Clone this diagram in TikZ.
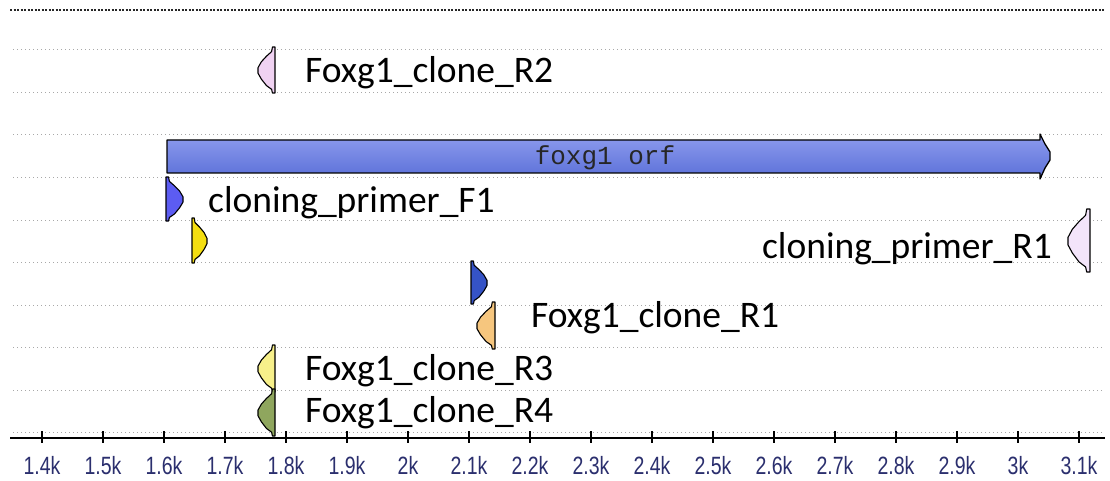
\documentclass[tikz,border=0pt]{standalone}
\usepackage{fontspec}
\newfontfamily\featfont{Carlito}
\newfontfamily\tickfont{Liberation Sans}
\newfontfamily\orffont{Liberation Mono}
\definecolor{axisblue}{HTML}{2B2F6E}
\definecolor{rowgray}{HTML}{A8A8A8}
\definecolor{orftop}{HTML}{8E9CEE}
\definecolor{orfbot}{HTML}{5A6FD8}
\definecolor{pinkR}{HTML}{F0D2F2}
\definecolor{lilacR}{HTML}{F3E4FA}
\definecolor{violetF}{HTML}{5C5CF2}
\definecolor{yellowF}{HTML}{F4DE10}
\definecolor{navyF}{HTML}{3553C6}
\definecolor{peachR}{HTML}{F6C67E}
\definecolor{paleyellowR}{HTML}{F7F08A}
\definecolor{oliveR}{HTML}{8FA65E}

% forward primer: left edge, top, width, height, fill
\newcommand\fwdprimer[5]{%
  \begin{scope}[shift={(#1,#2)}, xscale=#3, yscale=#4]
    \filldraw[primer, fill=#5] (0,0) -- (0.15,0) -- (0.2,0.1) -- (0.5,0.2)
      -- (0.8,0.32) -- (1,0.45) -- (1,0.57) -- (0.8,0.7) -- (0.5,0.84)
      -- (0.2,0.92) -- (0.15,1) -- (0,1) -- cycle;
  \end{scope}}
% reverse primer: left edge, top, width, height, fill
\newcommand\revprimer[5]{%
  \begin{scope}[shift={(#1,#2)}, xscale=#3, yscale=#4]
    \filldraw[primer, fill=#5] (1,0) -- (0.85,0) -- (0.8,0.1) -- (0.5,0.2)
      -- (0.2,0.32) -- (0,0.45) -- (0,0.57) -- (0.2,0.7) -- (0.5,0.84)
      -- (0.8,0.92) -- (0.85,1) -- (1,1) -- cycle;
  \end{scope}}

\begin{document}
\begin{tikzpicture}[x=1pt, y=-1pt,
  rowline/.style={draw=rowgray, line width=1pt, dash pattern=on 1pt off 3pt},
  topline/.style={draw=black!85, line width=2pt, dash pattern=on 2pt off 1.5pt},
  primer/.style={draw=black, line width=1.1pt, line join=round},
  featlabel/.style={font=\featfont\fontsize{37.5}{40}\selectfont, anchor=base west, inner sep=0pt},
  ticklabel/.style={font=\tickfont\fontsize{25}{28}\selectfont, text=axisblue, anchor=base, inner sep=0pt},
  axisline/.style={draw=black, line width=2pt}]

\useasboundingbox (0,0) rectangle (1110,481);
\fill[white] (0,0) rectangle (1110,481);

% track separators
\draw[topline] (10,10) -- (1105,10);
\foreach \y in {50,92.5,135,177.5,220,262.5,305,347.5,390,432.5}
  \draw[rowline] (13,\y) -- (1105,\y);

% open reading frame
\shade[top color=orftop, bottom color=orfbot]
  (167,140) -- (1040,140) -- (1040,134) -- (1045,144) -- (1050,152) -- (1050,160)
  -- (1045,168) -- (1040,179) -- (1040,173) -- (167,173) -- cycle;
\draw[line width=1.3pt, line join=round]
  (167,140) -- (1040,140) -- (1040,134) -- (1045,144) -- (1050,152) -- (1050,160)
  -- (1045,168) -- (1040,179) -- (1040,173) -- (167,173) -- cycle;
\node[font=\orffont\fontsize{26}{28}\selectfont, text=black!85, anchor=base, inner sep=0pt]
  (orf) at (605,165) {foxg1 orf};

% primers
\revprimer{258}{47}{17}{46}{pinkR}
\fwdprimer{166}{177}{17}{44}{violetF}
\fwdprimer{192}{218}{15}{45}{yellowF}
\revprimer{1068}{209}{22}{63}{lilacR}
\fwdprimer{471}{261}{16}{43}{navyF}
\revprimer{477}{302}{18}{47}{peachR}
\revprimer{258}{345}{17}{47}{paleyellowR}
\revprimer{258}{389}{17}{47}{oliveR}

% primer names
\node[featlabel] (lR2) at (305,83)  {Foxg1\_clone\_R2};
\node[featlabel] (lF1) at (208,212) {cloning\_primer\_F1};
\node[featlabel, anchor=base east] (lcR1) at (1052,258) {cloning\_primer\_R1};
\node[featlabel] (lR1) at (531,327) {Foxg1\_clone\_R1};
\node[featlabel] (lR3) at (305,380) {Foxg1\_clone\_R3};
\node[featlabel] (lR4) at (305,422) {Foxg1\_clone\_R4};

% ruler
\draw[axisline] (10,437.5) -- (1105,437.5);
\foreach \bp/\lab [count=\i] in {1400/1.4k,1500/1.5k,1600/1.6k,1700/1.7k,1800/1.8k,
    1900/1.9k,2000/2k,2100/2.1k,2200/2.2k,2300/2.3k,2400/2.4k,2500/2.5k,
    2600/2.6k,2700/2.7k,2800/2.8k,2900/2.9k,3000/3k,3100/3.1k}{
  \pgfmathsetmacro\tx{42+(\bp-1400)*0.61}
  \draw[axisline] (\tx,431) -- (\tx,443);
  \node[ticklabel] (tick\i) at (\tx,474) {\scalebox{0.78}[1]{\lab}};
}
\end{tikzpicture}
\end{document}
